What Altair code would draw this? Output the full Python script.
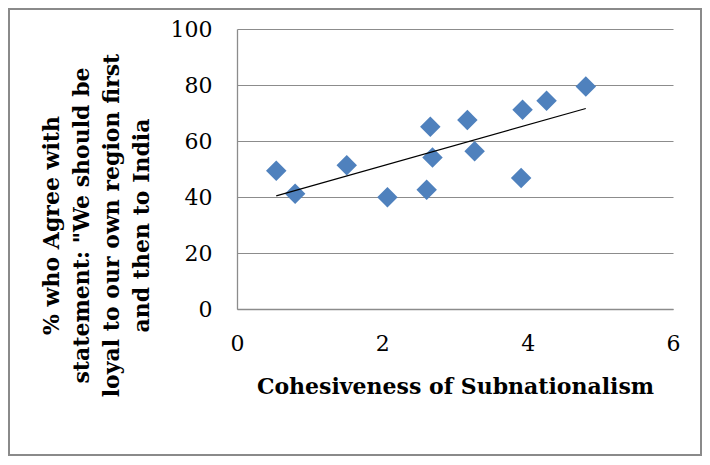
import altair as alt
import pandas as pd

# Data
cohesiveness = [0.54, 0.80, 1.51, 2.07, 2.61, 2.66, 2.69, 3.17, 3.27, 3.91, 3.93, 4.26, 4.80]
pct_agree = [49.4, 41.2, 51.3, 39.9, 42.6, 65.1, 54.1, 67.5, 56.3, 46.8, 71.2, 74.4, 79.5]
x_ticks = [0, 2, 4, 6]
y_ticks = [0, 20, 40, 60, 80, 100]
x_title = "Cohesiveness of Subnationalism"
y_title = ["% who Agree with", "statement: \"We should be",
           "loyal to our own region first", "and then to India"]

df = pd.DataFrame({"x": cohesiveness, "y": pct_agree})

FONT = "DejaVu Serif"
GRID = "#8c8c8c"

xenc = alt.X("x:Q",
             scale=alt.Scale(domain=[0, 6], nice=False, zero=False),
             axis=alt.Axis(values=x_ticks, format="d", grid=False, ticks=False,
                           domainColor=GRID, domainWidth=1.3,
                           labelFont=FONT, labelFontSize=22, labelColor="#000000",
                           labelPadding=24, labelFlush=False,
                           title=x_title, titleFont=FONT, titleFontSize=22,
                           titleFontWeight="bold", titleColor="#000000",
                           titleX=218, titleY=77, titleBaseline="middle",
                           titleAlign="center", titleAnchor="middle"))
yenc = alt.Y("y:Q",
             scale=alt.Scale(domain=[0, 100], nice=False, zero=False),
             axis=alt.Axis(values=y_ticks, format="d", grid=True, gridColor=GRID,
                           gridWidth=1.2, ticks=False, domainColor=GRID, domainWidth=1.3,
                           labelFont=FONT, labelFontSize=22, labelColor="#000000",
                           labelPadding=25, labelFlush=False,
                           title=y_title, titleFont=FONT, titleFontSize=22,
                           titleFontWeight="bold", titleColor="#000000",
                           titleAngle=270, titleX=-186, titleY=196,
                           titleBaseline="middle", titleAlign="center",
                           titleLineHeight=30))

border = alt.Chart(alt.Data(values=[{"a": 1}])).mark_rect(
    fill="transparent", stroke="#8a8a8a", strokeWidth=2
).encode(
    x=alt.value(-228), x2=alt.value(464),
    y=alt.value(-20), y2=alt.value(426)
)

points = alt.Chart(df).mark_point(
    shape="diamond", filled=True, size=420, color="#4F81BD", opacity=1
).encode(x=xenc, y=yenc)

trend = alt.Chart(df).transform_regression("x", "y").mark_line(
    color="#000000", strokeWidth=1.2
).encode(x=alt.X("x:Q"), y=alt.Y("y:Q"))

chart = alt.layer(points, trend, border).properties(
    width=436, height=280,
    autosize=alt.AutoSizeParams(type="none"),
    padding={"left": 229, "top": 21, "right": 29, "bottom": 147},
    background="white"
).configure_view(stroke=None)

chart.save("out.html", embed_options={"renderer": "svg", "actions": False})
